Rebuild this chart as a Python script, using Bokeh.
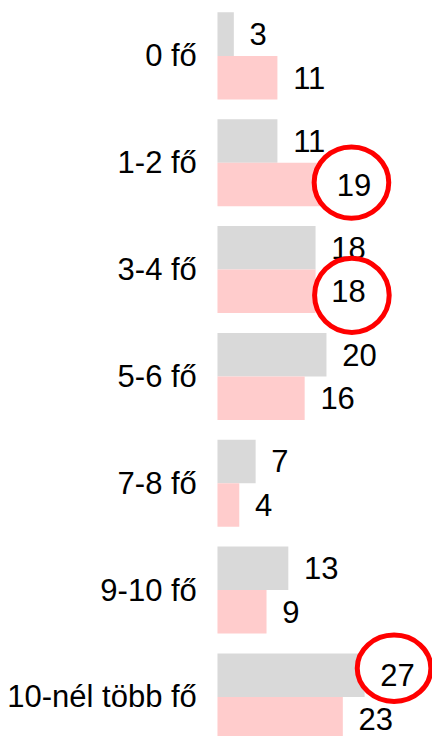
from bokeh.plotting import figure
from bokeh.models import Range1d, ColumnDataSource
from bokeh.core.properties import value
from bokeh.embed import file_html
from bokeh.resources import INLINE

categories = ["0 fő", "1-2 fő", "3-4 fő", "5-6 fő", "7-8 fő", "9-10 fő", "10-nél több fő"]
gray_values = [3, 11, 18, 20, 7, 13, 27]
pink_values = [11, 19, 18, 16, 4, 9, 23]
# highlighted labels: (series, category index)
highlights = [("pink", 1), ("pink", 2), ("gray", 6)]

GRAY = "#D9D9D9"
PINK = "#FFCCCC"
FONT = "Liberation Sans"

W, H = 432, 736
SX, SY = W / 440.0, H / 744.0
PX_PER_UNIT = 5.55 * SX          # horizontal pixels per value unit
PITCH = 108.0 * SY               # vertical pixels per category
BAR_PX = 44.0 * SY
X0_PX = 221.0 * SX               # bar origin from frame left
Y0_PX = 56.0 * SY                # first category centre from frame top
FS = "31px"

x_start = -X0_PX / PX_PER_UNIT
x_end = (W - X0_PX) / PX_PER_UNIT
y_top = -Y0_PX / PITCH
y_bottom = (H - Y0_PX) / PITCH
half = BAR_PX / PITCH

p = figure(width=W, height=H, output_backend="svg", toolbar_location=None,
           x_range=Range1d(x_start, x_end), y_range=Range1d(y_bottom, y_top),
           min_border=0)
p.axis.visible = False
p.grid.visible = False
p.outline_line_color = None
p.background_fill_color = "white"
p.border_fill_color = "white"

idx = list(range(len(categories)))
gray_y = [i - half / 2 for i in idx]
pink_y = [i + half / 2 for i in idx]

src_g = ColumnDataSource(dict(y=gray_y, v=gray_values, t=[str(v) for v in gray_values]))
src_p = ColumnDataSource(dict(y=pink_y, v=pink_values, t=[str(v) for v in pink_values]))

p.hbar(y="y", left=0, right="v", height=half, source=src_g, fill_color=GRAY, line_color=None)
p.hbar(y="y", left=0, right="v", height=half, source=src_p, fill_color=PINK, line_color=None)

OFF = 16 * SX
p.text(x="v", y="y", text="t", source=src_g, x_offset=OFF, text_align="left",
       text_baseline="middle", text_font=value(FONT), text_font_size=FS, text_color="black")
p.text(x="v", y="y", text="t", source=src_p, x_offset=OFF, text_align="left",
       text_baseline="middle", text_font=value(FONT), text_font_size=FS, text_color="black")

# category labels
p.text(x=[0] * len(categories), y=idx, text=categories, x_offset=-21 * SX, text_align="right",
       text_baseline="middle", text_font=value(FONT), text_font_size=FS, text_color="black")

# highlight circles (hand-drawn look: slight per-circle offsets / sizes, in px)
circle_dx = [31, 37, 30]
circle_dy = [-2, 4, -7]
circle_w = [76, 76, 75]
circle_h = [72, 75, 67]
hx, hy, ht, ty = [], [], [], []
for k, (s, i) in enumerate(highlights):
    v = pink_values[i] if s == "pink" else gray_values[i]
    y = pink_y[i] if s == "pink" else gray_y[i]
    hx.append(v + circle_dx[k] * SX / PX_PER_UNIT)
    hy.append(y + circle_dy[k] * SY / PITCH)
    ht.append(v)
    ty.append(y)
p.ellipse(x=hx, y=hy, width=[w * SX for w in circle_w], height=[h * SY for h in circle_h],
          width_units="screen", height_units="screen",
          fill_color="white", line_color="#FF0000", line_width=5)
p.text(x=ht, y=ty, text=[str(v) for v in ht], x_offset=OFF, text_align="left",
       text_baseline="middle", text_font=value(FONT), text_font_size=FS, text_color="black")

open("out.html", "w").write(file_html(p, INLINE))
